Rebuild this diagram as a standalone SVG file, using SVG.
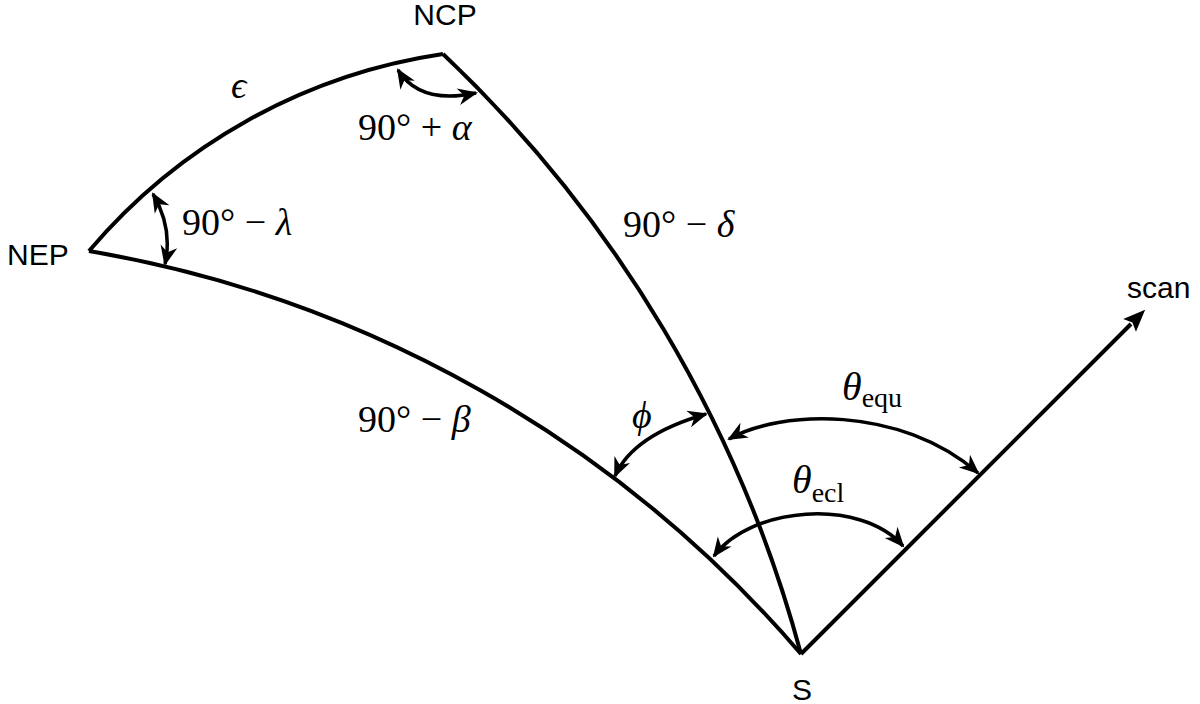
<svg xmlns="http://www.w3.org/2000/svg" width="1200" height="704" viewBox="0 0 1200 704">
<style>
.arc{fill:none;stroke:#000;stroke-width:4}
.ang{fill:none;stroke:#000;stroke-width:3.5;marker-start:url(#ah);marker-end:url(#ah)}
.lbl{font-family:"Liberation Sans",Arial,sans-serif;font-size:30px;fill:#000}
.math{font-family:"Liberation Serif","Times New Roman",serif;font-size:38px;fill:#000}
.sub{font-size:28px}
.it{font-style:italic}
</style>
<defs>
<marker id="ah" markerUnits="userSpaceOnUse" markerWidth="30" markerHeight="30" refX="-2" refY="0" orient="auto-start-reverse" overflow="visible" viewBox="-20 -10 30 20">
<path d="M0,0 L-20,-8.5 L-14,0 L-20,8.5 Z" fill="#000"/>
</marker>
<marker id="sh" markerUnits="userSpaceOnUse" markerWidth="30" markerHeight="30" refX="2" refY="0" orient="auto" overflow="visible" viewBox="-5 -12 30 24">
<path d="M0,-9 L22,0 L0,9 L4,0 Z" fill="#000"/>
</marker>
</defs>
<g id="connectors">
<path id="arc-nep-ncp" class="arc" d="M89,251 A573,573 0 0 1 443,54"/>
<path id="arc-ncp-s" class="arc" d="M443,54 A1285,1285 0 0 1 801,654"/>
<path id="arc-nep-s" class="arc" d="M89,251 A1205,1205 0 0 1 801,654"/>
<path id="scan-line" class="arc" d="M801,654 L1131,324" marker-end="url(#sh)"/>
<path id="ang-lambda" class="ang" d="M153,194 Q173,228 165,264"/>
<path id="ang-alpha" class="ang" d="M398,70 Q420,105 476,93"/>
<path id="ang-phi" class="ang" d="M615,476 Q633,435 706,414"/>
<path id="ang-equ" class="ang" d="M729,439 C780,410 900,405 978,473"/>
<path id="ang-ecl" class="ang" d="M714,556 C750,507 860,497 903,546"/>
</g>
<g id="NCP"><text class="lbl" x="445" y="25" text-anchor="middle">NCP</text></g>
<g id="NEP"><text class="lbl" x="7" y="265">NEP</text></g>
<g id="S"><text class="lbl" x="802" y="700" text-anchor="middle">S</text></g>
<g id="scan"><text class="lbl" x="1127" y="298">scan</text></g>
<g id="labels">
<text class="math it" x="231" y="98">ϵ</text>
<text class="math" x="358" y="140">90° + <tspan class="it">α</tspan></text>
<text class="math" x="182" y="235">90° − <tspan class="it">λ</tspan></text>
<text class="math" x="623" y="237">90° − <tspan class="it">δ</tspan></text>
<text class="math" x="358" y="432">90° − <tspan class="it">β</tspan></text>
<text class="math it" x="632" y="428">ϕ</text>
<text class="math" x="842" y="400"><tspan class="it" font-size="40">θ</tspan><tspan class="sub" dy="7">equ</tspan></text>
<text class="math" x="792" y="493"><tspan class="it" font-size="40">θ</tspan><tspan class="sub" dy="9">ecl</tspan></text>
</g>
</svg>
